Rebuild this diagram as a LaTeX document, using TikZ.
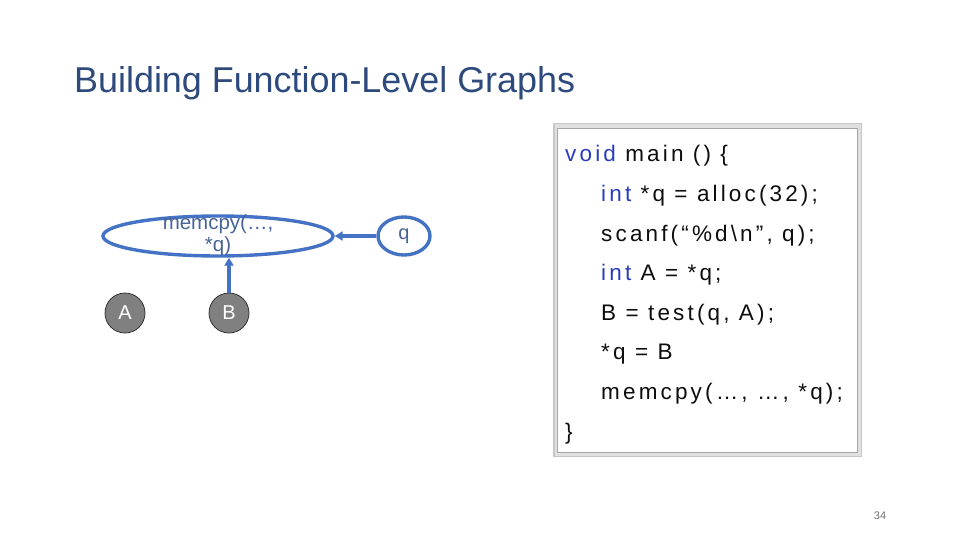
\documentclass[tikz,border=0pt]{standalone}
\usepackage{fontspec}
\setmainfont{Liberation Sans}
\newfontfamily\codefont[LetterSpace=14]{Liberation Sans}
\usetikzlibrary{arrows.meta,shapes.geometric}
\definecolor{titleblue}{RGB}{46,74,125}
\definecolor{edgeblue}{RGB}{68,114,196}
\definecolor{nodetext}{RGB}{70,100,150}
\definecolor{kwblue}{RGB}{40,60,190}
\definecolor{nodegray}{RGB}{128,128,128}
\begin{document}
\begin{tikzpicture}[x=1pt,y=-1pt,
  edge/.style={draw=edgeblue,line width=3.4pt,-{Triangle[length=8pt,width=9pt]}},
  opnode/.style={ellipse,draw=edgeblue,line width=3.4pt,inner sep=0pt},
  valnode/.style={circle,draw=black!80,line width=0.8pt,fill=nodegray,minimum size=40pt,inner sep=0pt,text=white,font=\fontsize{20}{22}\selectfont},
  codeline/.style={anchor=base west,inner sep=0pt,text=black!95,font=\codefont\fontsize{22.5}{24}\selectfont}]
\useasboundingbox (0,0) rectangle (960,540);
\node[anchor=base west,inner sep=0pt,text=titleblue,font=\fontsize{35.9}{40}\selectfont] (title) at (74,93) {Building Function-Level Graphs};
% code box
\fill[black!22] (553,123) rectangle (862,457);
\fill[black!12] (554.5,124.5) rectangle (860.5,455.5);
\node[draw=black!35,line width=0.6pt,fill=white,minimum width=300pt,minimum height=324pt,inner sep=0pt] (box) at (707.5,290) {};
\node[codeline] (l1) at (565,162) {\textcolor{kwblue}{void} main () \{};
\node[codeline] (l2) at (601,201) {\textcolor{kwblue}{int} *q = alloc(32);};
\node[codeline] (l3) at (601,241) {scanf(“\%d\textbackslash n”, q);};
\node[codeline] (l4) at (601,280) {\textcolor{kwblue}{int} A = *q;};
\node[codeline] (l5) at (601,320) {B = test(q, A);};
\node[codeline] (l6) at (601,359) {*q = B};
\node[codeline] (l7) at (601,399) {memcpy(…, …, *q);};
\node[codeline] (l8) at (565,439) {\}};
% graph
\node[opnode,minimum width=230pt,minimum height=40pt] (mem) at (218,236) {};
\node[text=nodetext,font=\fontsize{20.5}{22}\selectfont,align=center,inner sep=0pt] (memlbl) at (218,235) {memcpy(…,\\*q)};
\node[opnode,minimum width=52pt,minimum height=38pt,text=nodetext,font=\fontsize{20}{22}\selectfont] (q) at (404,236) {q};
\node[valnode] (A) at (125,313) {A};
\node[valnode] (B) at (229,313) {B};
\draw[edge] (q) -- (mem);
\draw[edge] (B) -- (B|-mem.south);
\node[text=black!55,font=\fontsize{11}{12}\selectfont] (pg) at (880,516) {34};
\end{tikzpicture}
\end{document}
